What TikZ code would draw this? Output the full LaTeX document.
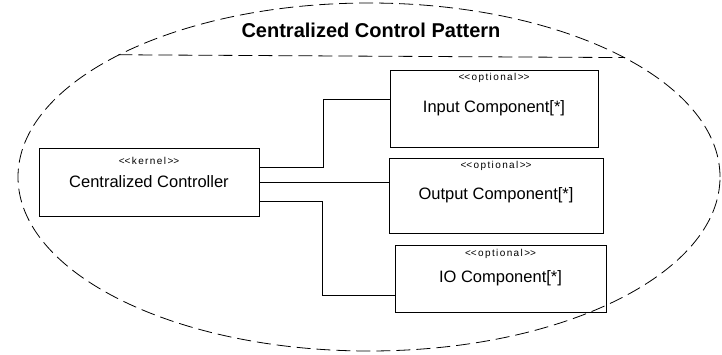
\documentclass[tikz,border=0pt]{standalone}
\usepackage{fontspec}
\setmainfont{Liberation Sans}
\newfontfamily\stereofont[LetterSpace=14]{Liberation Sans}
\usetikzlibrary{positioning,shapes.geometric}
\newcommand\stereo[1]{\textless\kern0pt\textless#1\textgreater\kern0pt\textgreater}

\begin{document}
\begin{tikzpicture}[
    x=1pt, y=1pt,
    node distance=11pt and 10pt,
 comp/.style 2 args = {
        draw, rectangle, align=center, line width=0.9pt,
        font=\fontsize{16.5}{19}\selectfont, inner sep=0pt, outer sep=0pt,
        label={[stereo, yshift=-#2]north:\stereo{#1}}},
 stereo/.style = {
        anchor=north, inner sep=0pt,
        font=\stereofont\fontsize{10}{11}\selectfont},
  dashy/.style = {line width=0.8pt, dash pattern=on 14pt off 6pt},
 border/.style = {draw, ellipse, inner sep=0pt, dashy},
   wire/.style = {line width=0.9pt}
                    ]
\useasboundingbox (0,0) rectangle (722,354);
% the pattern border
\node (pat) [border, minimum width=702pt, minimum height=348pt] at (369,177) {};
% the title
\node (title) [font=\fontsize{20}{23}\selectfont\bfseries] at (371,324)
                {Centralized Control Pattern};
\draw[dashy] (pat.154.7) -- (pat.25.3);
% the controller on the left
\node (ctrl) [comp={kernel}{9.5pt}, minimum width=220pt, minimum height=68pt]
                at (149,172) {Centralized Controller};
% the components on the right
\node (inp) [comp={optional}{3.5pt}, minimum width=208pt, minimum height=77pt]
                at (494,245.5) {Input Component[*]};
\node (out) [comp={optional}{3.5pt}, minimum width=214pt, minimum height=75pt,
                below=of inp, xshift=2pt] {Output Component[*]};
\node (io)  [comp={optional}{4.5pt}, minimum width=211pt, minimum height=67pt,
                below=12pt of out, xshift=4.5pt] {IO Component[*]};
% the wires
\draw[wire] ([yshift=15pt] ctrl.east) -- ++(64,0) |- ([yshift=9.5pt] inp.west);
\draw[wire] (ctrl.east) -- (ctrl.east -| out.west);
\draw[wire] ([yshift=-19pt] ctrl.east) -- ++(63,0) |- ([yshift=-16.5pt] io.west);
\end{tikzpicture}
\end{document}
